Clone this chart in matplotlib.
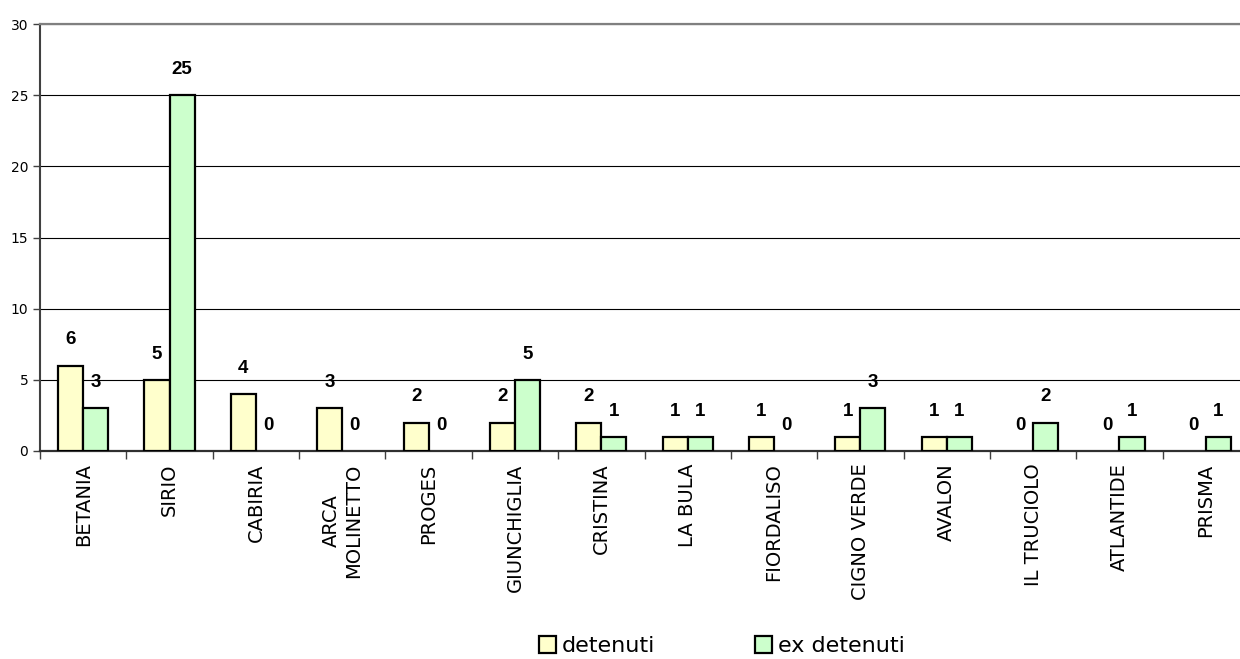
import matplotlib.pyplot as plt
import matplotlib.patches as mpatches
import numpy as np

plt.rcParams["font.family"] = ["Liberation Sans", "DejaVu Sans"]

categories = ["BETANIA", "SIRIO", "CABIRIA", "ARCA\nMOLINETTO", "PROGES",
              "GIUNCHIGLIA", "CRISTINA", "LA BULA", "FIORDALISO",
              "CIGNO VERDE", "AVALON", "IL TRUCIOLO", "ATLANTIDE", "PRISMA"]
detenuti = [6, 5, 4, 3, 2, 2, 2, 1, 1, 1, 1, 0, 0, 0]
ex_detenuti = [3, 25, 0, 0, 0, 5, 1, 1, 0, 3, 1, 2, 1, 1]

col_det = "#FFFFCC"
col_ex = "#CCFFCC"

fig = plt.figure(figsize=(12.4, 6.59), dpi=100)
# plot area runs a little past the right edge of the picture, as in the original
ax = fig.add_axes([40 / 1240, 1 - 451 / 659, 1209 / 1240, 427 / 659])

x = np.arange(len(categories))
w = 0.29
b1 = ax.bar(x - w / 2, detenuti, w, color=col_det, edgecolor="black", linewidth=1.6, zorder=3)
b2 = ax.bar(x + w / 2, ex_detenuti, w, color=col_ex, edgecolor="black", linewidth=1.6, zorder=3)

for bars, vals in ((b1, detenuti), (b2, ex_detenuti)):
    for bar, v in zip(bars, vals):
        if v == 0:
            bar.set_linewidth(0)
        ax.annotate(str(v), xy=(bar.get_x() + bar.get_width() / 2, v),
                    xytext=(0, 18.5), textcoords="offset points",
                    ha="center", va="center", fontsize=13.5, fontweight="bold")

ax.set_xlim(-0.5, len(categories) - 0.5)
ax.set_ylim(0, 30)
ax.set_yticks(range(0, 31, 5))
ax.yaxis.grid(True, color="black", linewidth=0.8, zorder=0)
ax.set_axisbelow(True)
ax.set_xticks(np.arange(-0.5, len(categories), 1), minor=False)
ax.set_xticklabels([])
ax.set_xticks(x, minor=True)
ax.set_xticklabels(categories, minor=True, rotation=90, fontsize=14,
                   ha="center", va="top", multialignment="center",
                   family="DejaVu Sans")
ax.tick_params(axis="x", which="minor", length=0, pad=9)
ax.tick_params(axis="x", which="major", length=6, direction="out", width=1, color="#404040")
ax.tick_params(axis="y", length=5, width=1, color="#404040")
for lbl in ax.get_yticklabels():
    lbl.set_family("DejaVu Sans")
    lbl.set_fontsize(10)
ax.spines["right"].set_visible(False)
ax.spines["top"].set_color("#808080")
ax.spines["top"].set_linewidth(1.6)
ax.spines["left"].set_color("#404040")
ax.spines["left"].set_linewidth(1.5)
ax.spines["bottom"].set_color("#303030")
ax.spines["bottom"].set_linewidth(1.6)

h1 = mpatches.Patch(facecolor=col_det, edgecolor="black", linewidth=1.6, label="detenuti")
h2 = mpatches.Patch(facecolor=col_ex, edgecolor="black", linewidth=1.6, label="ex detenuti")
fig.legend(handles=[h1, h2], loc="center", bbox_to_anchor=(722 / 1240, 1 - 646 / 659),
           ncol=2, frameon=False, prop={"family": "DejaVu Sans", "size": 16},
           handlelength=0.77, handleheight=0.77, handletextpad=0.27, columnspacing=4.5)

fig.savefig("out.png", dpi=100)
